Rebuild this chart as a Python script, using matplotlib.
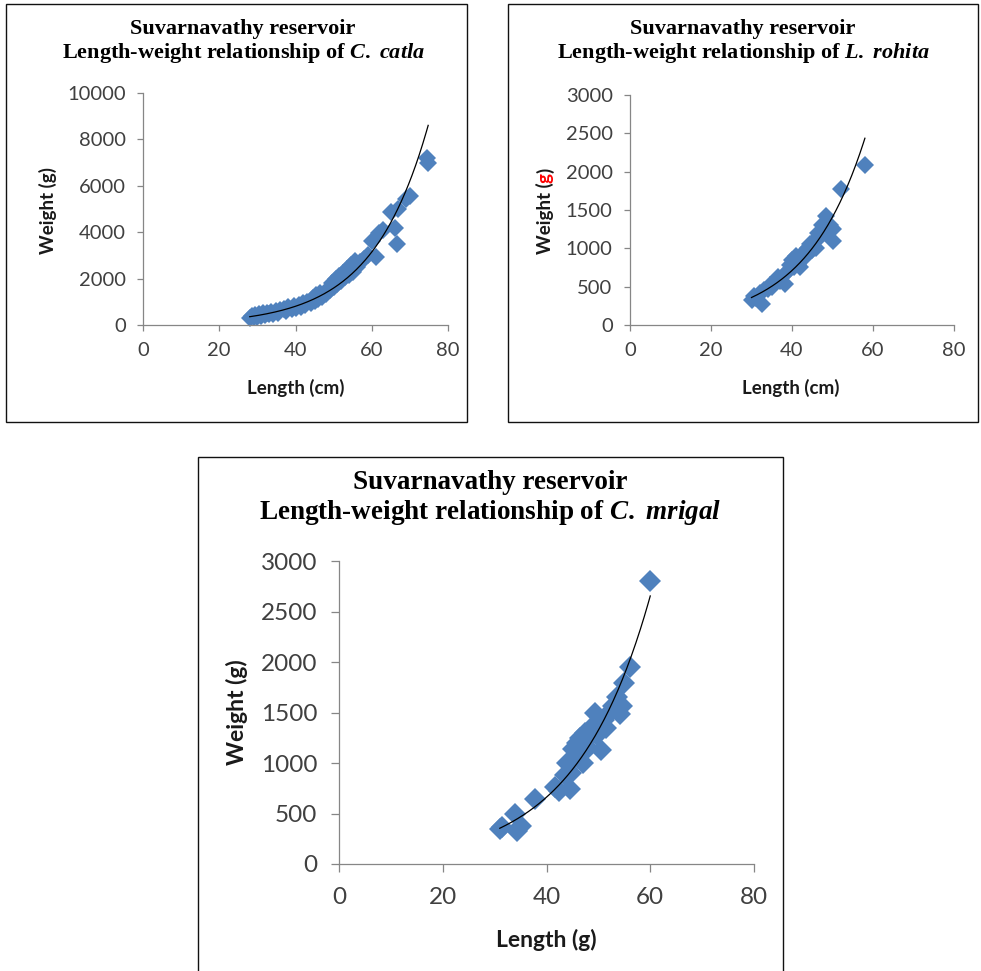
import numpy as np
import matplotlib.pyplot as plt
from matplotlib.patches import Rectangle
from matplotlib.font_manager import FontProperties

plt.rcParams['font.family'] = ['Lato', 'DejaVu Sans']
plt.rcParams['mathtext.fontset'] = 'custom'
plt.rcParams['mathtext.rm'] = 'Liberation Serif:bold'
plt.rcParams['mathtext.it'] = 'Liberation Serif:italic:bold'

# C. catla
catla_length = [28.0, 28.5, 29.0, 29.5, 30.0, 30.5, 31.0, 31.5, 32.0, 32.5, 33.0, 33.5, 34.0,
                35.0, 35.5, 36.0, 37.0, 37.5, 38.0, 39.0, 39.5, 40.0, 41.0, 41.5, 42.0, 42.5,
                43.0, 44.0, 44.5, 45.0, 45.5, 46.0, 46.5, 47.0, 48.0, 48.5, 49.0, 49.5, 50.0,
                50.5, 51.0, 51.5, 52.0, 52.5, 53.0, 53.5, 54.0, 54.5, 55.0, 55.5, 56.0, 57.0,
                58.0, 59.0, 60.0, 61.0, 62.0, 63.0, 65.0, 66.0, 66.5, 67.0, 69.0, 70.0, 74.5, 74.8]
catla_weight = [300, 380, 330, 420, 350, 470, 400, 500, 430, 520, 460, 560, 480,
                600, 520, 640, 700, 620, 760, 680, 820, 740, 860, 780, 950, 880,
                1000, 930, 1150, 1050, 1300, 1100, 1400, 1200, 1350, 1550, 1500, 1800, 1650,
                2000, 1750, 2100, 1900, 2250, 2050, 2400, 2150, 2600, 2300, 2750, 2500, 2700,
                2850, 3000, 3600, 2950, 3950, 4100, 4850, 4200, 3500, 5000, 5450, 5550, 7200, 7000]

# L. rohita
rohita_length = [30.0, 30.5, 31.0, 32.0, 32.5, 33.0, 34.0, 34.5, 35.0, 36.0, 36.5, 37.0, 38.0,
                 38.3, 39.0, 39.5, 40.0, 40.5, 41.0, 41.5, 42.0, 42.5, 43.0, 43.5, 44.0, 44.5,
                 45.0, 45.5, 46.0, 46.5, 47.0, 47.5, 48.0, 48.5, 49.0, 49.5, 50.0, 50.2, 52.0, 58.0]
rohita_weight = [330, 380, 350, 420, 280, 450, 470, 520, 500, 560, 620, 580, 650,
                 530, 700, 780, 850, 760, 900, 800, 760, 880, 950, 900, 1000, 1050,
                 980, 1100, 1000, 1200, 1150, 1300, 1250, 1420, 1200, 1300, 1100, 1250, 1780, 2090]

# C. mrigal
mrigal_length = [31.0, 31.5, 34.0, 34.3, 35.0, 37.8, 41.6, 42.5, 43.5, 44.0, 44.5, 44.8, 45.2,
                 45.8, 46.0, 46.5, 47.0, 47.5, 48.0, 48.5, 49.0, 49.3, 49.7, 50.0, 50.6, 51.0,
                 51.5, 52.0, 52.9, 53.5, 54.2, 54.5, 54.9, 56.1, 60.0]
mrigal_weight = [350, 370, 500, 330, 380, 640, 760, 720, 880, 1000, 740, 900, 1140,
                 1200, 1050, 1250, 1000, 1300, 1150, 1350, 1290, 1500, 1280, 1400, 1130, 1430,
                 1350, 1500, 1560, 1650, 1490, 1560, 1790, 1950, 2800]

W, H = 981, 971
fig = plt.figure(figsize=(W / 100, H / 100), dpi=100)

def fx(px):
    return px / W

def fy(py):
    return 1 - py / H

blue = '#4F81BD'
axis_gray = '#868686'
tick_col = '#404040'
label_col = '#1a1a1a'

# panel frames
for x0, y0, x1, y1 in [(6, 4, 467, 422), (508, 4, 978, 422), (198, 457, 783, 990)]:
    fig.add_artist(Rectangle((fx(x0), fy(y1)), fx(x1) - fx(x0), fy(y0) - fy(y1),
                             transform=fig.transFigure, fill=False, ec='#111111', lw=1.0))


def panel(box, length, weight, ymax, ystep, fs, ms, tlen, xpad, ypad):
    ax = fig.add_axes(box)
    ax.plot(length, weight, 'D', color=blue, ms=ms, mew=0, zorder=2, clip_on=False)
    # exponential trendline fitted to the data
    k, c = np.polyfit(length, np.log(weight), 1)
    xs = np.linspace(min(length), max(length), 200)
    ax.plot(xs, np.exp(c + k * xs), color='black', lw=0.9, zorder=3)
    ax.set_xlim(0, 80)
    ax.set_ylim(0, ymax)
    ax.set_xticks(range(0, 81, 20))
    ax.set_yticks(np.arange(0, ymax + 1, ystep))
    for s in ['top', 'right']:
        ax.spines[s].set_visible(False)
    for s in ['left', 'bottom']:
        ax.spines[s].set_color(axis_gray)
        ax.spines[s].set_linewidth(0.9)
    ax.tick_params(direction='out', length=tlen, width=0.9, color=axis_gray,
                   labelsize=fs, labelcolor=tick_col)
    ax.tick_params(axis='x', pad=xpad)
    ax.tick_params(axis='y', pad=ypad)
    ax.set_facecolor('none')
    return ax


ax1 = panel([fx(143), fy(325), (448 - 143) / W, (325 - 93) / H],
            catla_length, catla_weight, 10000, 2000, 14.5, 9, 4.5, 8, 8)
ax2 = panel([fx(630), fy(325), (954 - 630) / W, (325 - 95) / H],
            rohita_length, rohita_weight, 3000, 500, 14.5, 9, 4.5, 8, 8)
ax3 = panel([fx(339), fy(864), (754 - 339) / W, (864 - 561) / H],
            mrigal_length, mrigal_weight, 3000, 500, 17.5, 11, 5.5, 11, 10)

# titles
title_fmt = "Suvarnavathy reservoir\nLength-weight relationship of $\\mathit{%s}$"
fig.text(fx(243), fy(19), title_fmt % "C.\\ catla", family='Liberation Serif', weight='bold',
         size=16, ha='center', va='top', linespacing=1.1)
fig.text(fx(743), fy(19), title_fmt % "L.\\ rohita", family='Liberation Serif', weight='bold',
         size=16, ha='center', va='top', linespacing=1.1)
fig.text(fx(490), fy(470), title_fmt % "C.\\ mrigal", family='Liberation Serif', weight='bold',
         size=19.5, ha='center', va='top', linespacing=1.15)

# axis labels
fig.text(fx(296), fy(388), "Length (cm)", weight='bold', size=13.5, color=label_col,
         ha='center', va='center')
fig.text(fx(791), fy(388), "Length (cm)", weight='bold', size=13.5, color=label_col,
         ha='center', va='center')
fig.text(fx(546), fy(940), "Length (g)", weight='bold', size=16.5, color=label_col,
         ha='center', va='center')
fig.text(fx(48), fy(211), "Weight (g)", weight='bold', size=13.5, color=label_col,
         rotation=90, ha='center', va='center')
fig.text(fx(237), fy(712), "Weight (g)", weight='bold', size=16.5, color=label_col,
         rotation=90, ha='center', va='center')

# rohita y label with the red "g"
renderer = fig.canvas.get_renderer()
fp = FontProperties(family=['Lato', 'DejaVu Sans'], weight='bold', size=13.5)
pieces = [("Weight (", label_col), ("g", 'red'), (")", label_col)]
widths = [renderer.get_text_width_height_descent(p, fp, ismath=False)[0] for p, _ in pieces]
y_start = 211 + sum(widths) / 2
for (p, col), w in zip(pieces, widths):
    fig.text(fx(545), fy(y_start), p, fontproperties=fp, color=col, rotation=90,
             rotation_mode='anchor', ha='left', va='center')
    y_start -= w

fig.savefig('out.png', dpi=100, facecolor='white')
